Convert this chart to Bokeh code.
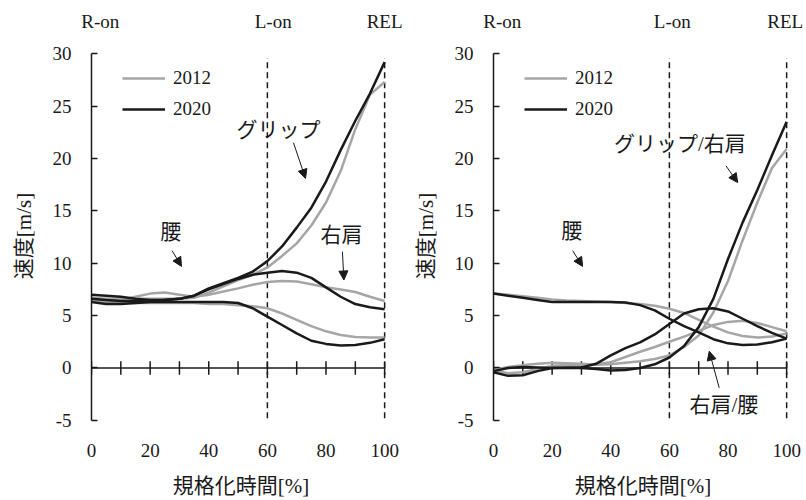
from bokeh.plotting import figure
from bokeh.models import (Range1d, FixedTicker, Label, Arrow, NormalHead, Legend, LegendItem,
                          LinearAxis)
from bokeh.layouts import row
from bokeh.embed import file_html
from bokeh.resources import INLINE

# ---------------- data ----------------
X = [0, 5, 10, 15, 20, 25, 30, 35, 40, 45, 50, 55, 60, 65, 70, 75, 80, 85, 90, 95, 100]

# left panel: absolute segment speeds
L_GRIP_2012 = [6.7, 6.6, 6.6, 6.6, 6.6, 6.6, 6.6, 6.7, 7.2, 7.8, 8.4, 8.9, 9.6, 10.7, 11.9, 13.6, 15.8, 18.8, 22.8, 26.1, 27.3]
L_GRIP_2020 = [7.0, 6.9, 6.8, 6.6, 6.5, 6.5, 6.6, 6.9, 7.6, 8.1, 8.6, 9.2, 10.2, 11.6, 13.4, 15.3, 17.8, 20.8, 23.6, 26.2, 29.2]
L_RSH_2012 = [6.5, 6.4, 6.5, 6.8, 7.1, 7.2, 7.0, 6.8, 7.0, 7.3, 7.6, 7.95, 8.2, 8.3, 8.25, 8.0, 7.7, 7.5, 7.25, 6.8, 6.4]
L_RSH_2020 = [6.6, 6.5, 6.4, 6.4, 6.4, 6.5, 6.6, 6.9, 7.5, 8.0, 8.5, 8.9, 9.1, 9.25, 9.1, 8.6, 7.7, 6.8, 6.1, 5.8, 5.6]
L_WAIST_2012 = [6.6, 6.3, 6.2, 6.2, 6.2, 6.2, 6.2, 6.2, 6.1, 6.1, 6.0, 5.9, 5.7, 5.2, 4.6, 4.0, 3.5, 3.15, 2.95, 2.9, 2.9]
L_WAIST_2020 = [6.3, 6.1, 6.1, 6.2, 6.3, 6.3, 6.3, 6.3, 6.3, 6.3, 6.2, 5.7, 4.9, 4.1, 3.3, 2.6, 2.3, 2.15, 2.2, 2.4, 2.75]

# right panel: relative speeds
R_GRIP_2012 = [-0.2, 0.1, 0.25, 0.4, 0.5, 0.45, 0.4, 0.3, 0.35, 0.5, 0.65, 0.85, 1.2, 2.0, 3.1, 5.3, 8.3, 12.2, 15.8, 19.1, 20.9]
R_GRIP_2020 = [-0.3, 0.0, 0.1, 0.05, 0.0, 0.0, 0.0, -0.1, -0.25, -0.2, 0.0, 0.35, 1.0, 2.1, 3.9, 6.6, 10.4, 13.9, 17.0, 20.3, 23.5]
R_RSH_2012 = [-0.2, -0.5, -0.4, -0.1, 0.2, 0.3, 0.3, 0.35, 0.55, 1.05, 1.55, 2.0, 2.5, 3.0, 3.55, 4.1, 4.4, 4.5, 4.3, 3.9, 3.5]
R_RSH_2020 = [-0.4, -0.75, -0.7, -0.3, 0.0, 0.05, 0.05, 0.4, 1.2, 1.9, 2.45, 3.2, 4.2, 5.2, 5.6, 5.7, 5.4, 4.7, 4.0, 3.35, 2.8]
R_WAIST_2012 = [7.1, 7.0, 6.85, 6.7, 6.55, 6.45, 6.4, 6.35, 6.3, 6.2, 6.1, 5.95, 5.65, 5.25, 4.6, 3.95, 3.4, 3.05, 2.9, 3.0, 3.3]
R_WAIST_2020 = [7.1, 6.9, 6.7, 6.5, 6.3, 6.3, 6.3, 6.3, 6.3, 6.25, 6.0, 5.5, 4.7, 4.0, 3.4, 2.75, 2.35, 2.2, 2.25, 2.45, 2.8]

YEARS = ["2012", "2020"]
X_LABEL_TICKS = [0, 20, 40, 60, 80, 100]
X_MINOR_TICKS = [0, 10, 20, 30, 40, 50, 60, 70, 80, 90, 100]
Y_TICKS = [-5, 0, 5, 10, 15, 20, 25, 30]
EVENTS = ["R-on", "L-on", "REL"]
EVENT_X = [60, 100]

GRAY = "#a6a6a6"
BLACK = "#1a1a1a"
SERIF = "Liberation Serif"
MIX = "Liberation Serif, Noto Sans CJK JP"


def make_panel(width, ml, mr, event_pos, series, notes, arrows):
    p = figure(width=width, height=500, x_range=Range1d(0, 102), y_range=Range1d(-5.3, 30.5),
               output_backend="svg", toolbar_location=None,
               min_border_left=ml, min_border_right=mr, min_border_top=48, min_border_bottom=76)
    p.outline_line_color = None
    p.xgrid.visible = False
    p.ygrid.visible = False
    p.background_fill_color = None
    p.border_fill_color = None

    ya = p.yaxis[0]
    ya.ticker = FixedTicker(ticks=Y_TICKS)
    ya.bounds = (Y_TICKS[0], Y_TICKS[-1])
    ya.major_tick_in = 6
    ya.major_tick_out = 0
    ya.minor_tick_line_color = None
    ya.axis_line_width = 1.5
    ya.major_tick_line_width = 1.5
    ya.axis_line_color = BLACK
    ya.major_tick_line_color = BLACK
    ya.major_label_text_font = SERIF
    ya.major_label_text_font_size = "19px"
    ya.major_label_text_color = BLACK
    ya.major_label_standoff = 20
    ya.major_label_overrides = {-5: "-5"}
    ya.axis_label = "速度[m/s]"
    ya.axis_label_text_font = MIX
    ya.axis_label_text_font_size = "21px"
    ya.axis_label_text_font_style = "normal"
    ya.axis_label_text_color = BLACK
    ya.axis_label_standoff = 14

    xa = p.xaxis[0]
    xa.ticker = FixedTicker(ticks=X_LABEL_TICKS)
    xa.axis_line_color = None
    xa.major_tick_line_color = None
    xa.minor_tick_line_color = None
    xa.major_label_text_font = SERIF
    xa.major_label_text_font_size = "19px"
    xa.major_label_text_color = BLACK
    xa.major_label_standoff = 14
    xa.axis_label = "規格化時間[%]"
    xa.axis_label_text_font = MIX
    xa.axis_label_text_font_size = "21px"
    xa.axis_label_text_font_style = "normal"
    xa.axis_label_text_color = BLACK
    xa.axis_label_standoff = 14

    # event names as a label-only axis above the frame
    top = LinearAxis(ticker=FixedTicker(ticks=event_pos),
                     major_label_overrides={k: v for k, v in zip(event_pos, EVENTS)},
                     axis_line_color=None, major_tick_line_color=None, minor_tick_line_color=None,
                     major_label_text_font=SERIF, major_label_text_font_size="19px",
                     major_label_text_color=BLACK, major_label_standoff=11)
    p.add_layout(top, "above")

    # zero line axis with crossing ticks
    p.segment(x0=[X_MINOR_TICKS[0]], x1=[X_MINOR_TICKS[-1]], y0=[0], y1=[0], line_color=BLACK, line_width=1.5)
    p.segment(x0=X_MINOR_TICKS, x1=X_MINOR_TICKS, y0=[-0.65] * len(X_MINOR_TICKS), y1=[0.65] * len(X_MINOR_TICKS),
              line_color=BLACK, line_width=1.5)
    # event dashed lines
    p.segment(x0=EVENT_X, x1=EVENT_X, y0=[-4.8] * len(EVENT_X), y1=[29.6] * len(EVENT_X),
              line_color=BLACK, line_width=1.5, line_dash="6 4")

    rend = {}
    for ys, year in series:
        color = GRAY if year == "2012" else BLACK
        r = p.line(X, ys, line_color=color, line_width=2.5)
        rend.setdefault(year, r)

    legend = Legend(items=[LegendItem(label=y, renderers=[rend[y]]) for y in YEARS],
                    location=(31, 302), glyph_width=43, glyph_height=24, label_height=24,
                    label_standoff=8, spacing=7, padding=0, margin=0,
                    border_line_color=None, background_fill_alpha=0,
                    label_text_font=SERIF, label_text_font_size="19px", label_text_color=BLACK)
    p.add_layout(legend)

    for txt, x, y in notes:
        p.add_layout(Label(x=x, y=y, text=txt, text_align="center", text_baseline="middle",
                           text_font=MIX, text_font_size="21px", text_color=BLACK))
    for x0, y0, x1, y1 in arrows:
        p.add_layout(Arrow(x_start=x0, y_start=y0, x_end=x1, y_end=y1, line_color=BLACK, line_width=1,
                           end=NormalHead(size=9, fill_color=BLACK, line_color=BLACK, line_width=1)))
    return p


left = make_panel(404, 91, 14, [3, 62, 100],
                  [(L_GRIP_2012, "2012"), (L_RSH_2012, "2012"), (L_WAIST_2012, "2012"),
                   (L_GRIP_2020, "2020"), (L_RSH_2020, "2020"), (L_WAIST_2020, "2020")],
                  [("グリップ", 63.8, 22.7), ("右肩", 85.3, 12.7), ("腰", 27.0, 13.0)],
                  [(68.9, 21.5, 73.0, 18.1), (85.6, 11.1, 86.1, 8.4), (27.5, 11.2, 30.7, 9.7)])
right = make_panel(401, 89, 13, [3, 61, 99.5],
                   [(R_GRIP_2012, "2012"), (R_RSH_2012, "2012"), (R_WAIST_2012, "2012"),
                    (R_GRIP_2020, "2020"), (R_RSH_2020, "2020"), (R_WAIST_2020, "2020")],
                   [("グリップ/右肩", 63.6, 21.4), ("腰", 26.7, 13.1), ("右肩/腰", 78.6, -3.5)],
                   [(79.3, 19.3, 83.3, 17.7), (27.0, 11.2, 30.4, 9.7), (77.0, -1.9, 73.6, 1.6)])

layout = row(left, right)
open("out.html", "w").write(file_html(layout, INLINE))
